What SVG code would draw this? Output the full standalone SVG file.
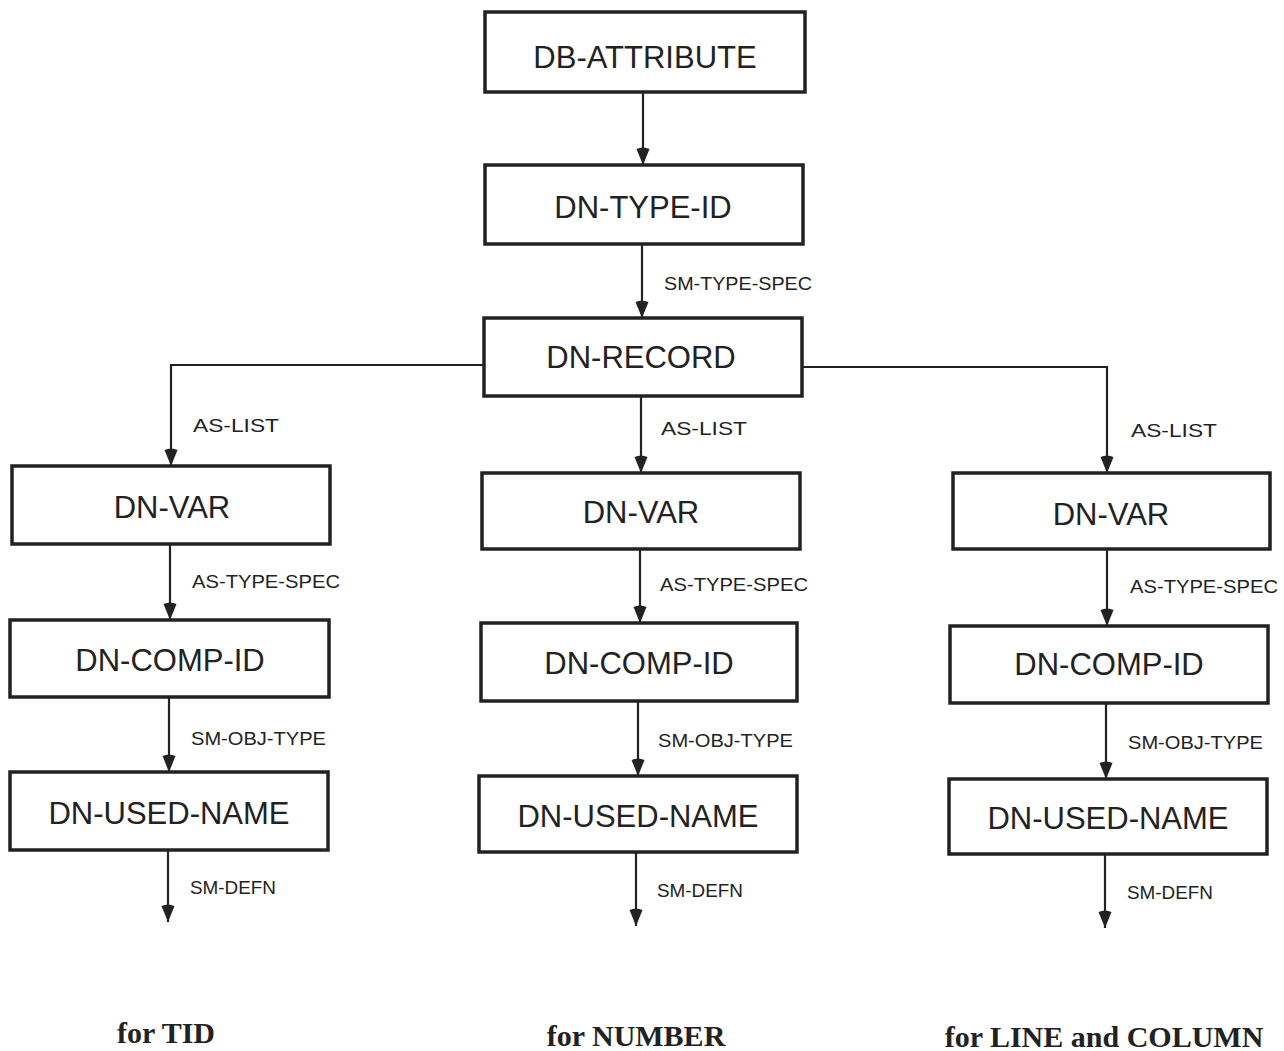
<svg xmlns="http://www.w3.org/2000/svg" width="1284" height="1051" viewBox="0 0 1284 1051">
<style>
.box{fill:#fff;stroke:#222;stroke-width:3.5}
.t{font-family:"Liberation Sans",Arial,sans-serif;font-size:31px;fill:#222;text-anchor:middle}
.l{font-family:"Liberation Sans",Arial,sans-serif;font-size:19px;fill:#222}
.c{fill:none;stroke:#222;stroke-width:2.2}
.f{font-family:"Liberation Serif","Times New Roman",serif;font-size:30px;font-weight:bold;fill:#222;text-anchor:middle}
</style>
<defs>
<marker id="a" markerUnits="userSpaceOnUse" markerWidth="20" markerHeight="16" refX="19" refY="8" orient="auto" viewBox="0 0 20 16">
<path d="M3,1.5 Q0,8 3,14.5 L19,8 Z" fill="#222"/>
</marker>
</defs>
<rect width="1284" height="1051" fill="#fff"/>
<g id="connectors">
<path class="c" d="M643,92 V165" marker-end="url(#a)"/>
<path class="c" d="M642,244 V318" marker-end="url(#a)"/>
<path class="c" d="M484,365 H171 V466" marker-end="url(#a)"/>
<path class="c" d="M641,396 V473" marker-end="url(#a)"/>
<path class="c" d="M802,367 H1107 V473" marker-end="url(#a)"/>
<path class="c" d="M170,544 V620" marker-end="url(#a)"/>
<path class="c" d="M169,697 V772" marker-end="url(#a)"/>
<path class="c" d="M168,850 V922" marker-end="url(#a)"/>
<path class="c" d="M640,549 V623" marker-end="url(#a)"/>
<path class="c" d="M638,701 V776" marker-end="url(#a)"/>
<path class="c" d="M636,852 V926" marker-end="url(#a)"/>
<path class="c" d="M1107,549 V626" marker-end="url(#a)"/>
<path class="c" d="M1106,703 V779" marker-end="url(#a)"/>
<path class="c" d="M1105,854 V928" marker-end="url(#a)"/>
<text class="l" x="664" y="290" textLength="148" lengthAdjust="spacingAndGlyphs">SM-TYPE-SPEC</text>
<text class="l" x="193" y="432" textLength="86" lengthAdjust="spacingAndGlyphs">AS-LIST</text>
<text class="l" x="661" y="435" textLength="86" lengthAdjust="spacingAndGlyphs">AS-LIST</text>
<text class="l" x="1131" y="437" textLength="86" lengthAdjust="spacingAndGlyphs">AS-LIST</text>
<text class="l" x="192" y="588" textLength="148" lengthAdjust="spacingAndGlyphs">AS-TYPE-SPEC</text>
<text class="l" x="660" y="591" textLength="148" lengthAdjust="spacingAndGlyphs">AS-TYPE-SPEC</text>
<text class="l" x="1130" y="593" textLength="148" lengthAdjust="spacingAndGlyphs">AS-TYPE-SPEC</text>
<text class="l" x="191" y="745" textLength="135" lengthAdjust="spacingAndGlyphs">SM-OBJ-TYPE</text>
<text class="l" x="658" y="747" textLength="135" lengthAdjust="spacingAndGlyphs">SM-OBJ-TYPE</text>
<text class="l" x="1128" y="749" textLength="135" lengthAdjust="spacingAndGlyphs">SM-OBJ-TYPE</text>
<text class="l" x="190" y="894" textLength="86" lengthAdjust="spacingAndGlyphs">SM-DEFN</text>
<text class="l" x="657" y="897" textLength="86" lengthAdjust="spacingAndGlyphs">SM-DEFN</text>
<text class="l" x="1127" y="899" textLength="86" lengthAdjust="spacingAndGlyphs">SM-DEFN</text>
</g>
<g id="db-attribute"><rect class="box" x="485" y="12" width="320" height="80"/><text class="t" x="645" y="68">DB-ATTRIBUTE</text></g>
<g id="dn-type-id"><rect class="box" x="485" y="165" width="318" height="79"/><text class="t" x="643" y="218">DN-TYPE-ID</text></g>
<g id="dn-record"><rect class="box" x="484" y="318" width="318" height="78"/><text class="t" x="641" y="368">DN-RECORD</text></g>
<g id="dn-var-1"><rect class="box" x="12" y="466" width="318" height="78"/><text class="t" x="172" y="518">DN-VAR</text></g>
<g id="dn-comp-id-1"><rect class="box" x="10" y="620" width="319" height="77"/><text class="t" x="170" y="671">DN-COMP-ID</text></g>
<g id="dn-used-name-1"><rect class="box" x="10" y="772" width="318" height="78"/><text class="t" x="169" y="824">DN-USED-NAME</text></g>
<g id="dn-var-2"><rect class="box" x="482" y="473" width="318" height="76"/><text class="t" x="641" y="523">DN-VAR</text></g>
<g id="dn-comp-id-2"><rect class="box" x="481" y="623" width="316" height="78"/><text class="t" x="639" y="674">DN-COMP-ID</text></g>
<g id="dn-used-name-2"><rect class="box" x="479" y="776" width="318" height="76"/><text class="t" x="638" y="827">DN-USED-NAME</text></g>
<g id="dn-var-3"><rect class="box" x="953" y="473" width="317" height="76"/><text class="t" x="1111" y="525">DN-VAR</text></g>
<g id="dn-comp-id-3"><rect class="box" x="950" y="626" width="318" height="77"/><text class="t" x="1109" y="675">DN-COMP-ID</text></g>
<g id="dn-used-name-3"><rect class="box" x="949" y="779" width="318" height="75"/><text class="t" x="1108" y="829">DN-USED-NAME</text></g>
<text class="f" x="166" y="1043">for TID</text>
<text class="f" x="636" y="1046">for NUMBER</text>
<text class="f" x="1104" y="1047">for LINE and COLUMN</text>
</svg>
